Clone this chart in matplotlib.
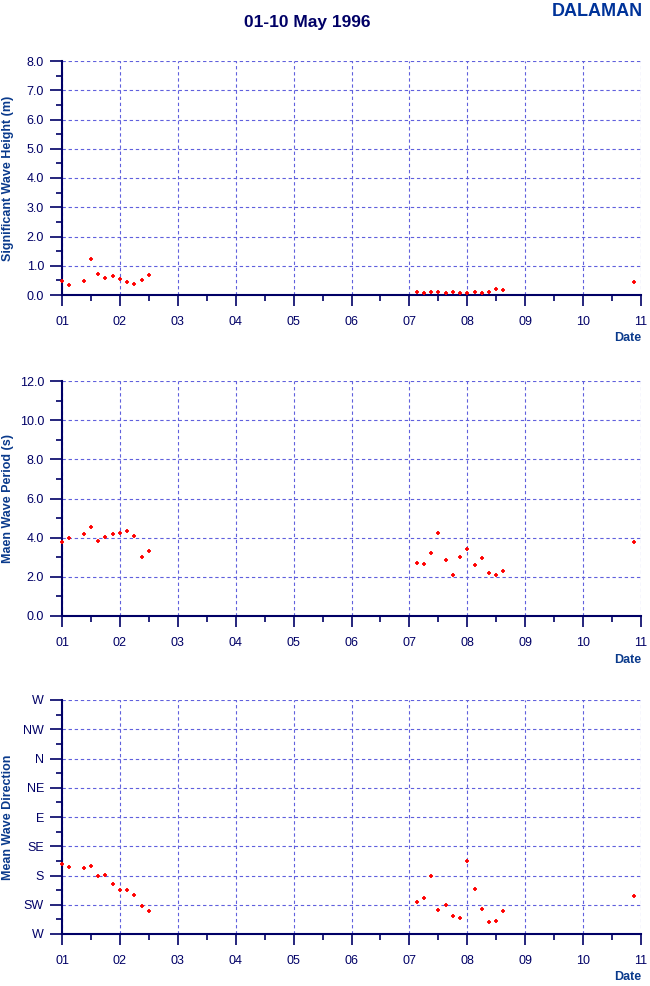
import numpy as np
import matplotlib.pyplot as plt
from matplotlib.ticker import MultipleLocator

plt.rcParams['font.family'] = ['Liberation Sans', 'DejaVu Sans']

# time in days since 01 May 1996 00:00
t = [0, 0.125, 0.375, 0.5, 0.625, 0.75, 0.875, 1.0, 1.125, 1.25, 1.375, 1.5,
     6.125, 6.25, 6.375, 6.5, 6.625, 6.75, 6.875, 7.0, 7.125, 7.25, 7.375, 7.5, 7.625, 9.875]
hs = [0.48, 0.35, 0.49, 1.23, 0.71, 0.58, 0.65, 0.56, 0.43, 0.38, 0.51, 0.70,
      0.10, 0.08, 0.10, 0.11, 0.07, 0.09, 0.07, 0.07, 0.09, 0.07, 0.10, 0.19, 0.17, 0.43]
tm = [3.79, 4.00, 4.17, 4.53, 3.85, 4.03, 4.17, 4.26, 4.36, 4.09, 3.03, 3.33,
      2.72, 2.67, 3.20, 4.26, 2.87, 2.10, 3.03, 3.44, 2.62, 2.97, 2.19, 2.10, 2.32, 3.79]
dirn = [163, 167, 168, 166, 181, 179, 193, 202, 203, 210, 227, 235,
        221, 215, 180, 233, 226, 242, 245, 158, 200, 232, 252, 250, 234, 212]

days = [f'{d:02d}' for d in range(1, 12)]
dir_labels = ['W', 'SW', 'S', 'SE', 'E', 'NE', 'N', 'NW', 'W']
dir_ticks = [270, 225, 180, 135, 90, 45, 0, -45, -90]

navy = '#000066'
lblc = '#0a3a8c'
gridc = '#6060dd'

W, H = 650, 986
fig = plt.figure(figsize=(W / 100, H / 100), dpi=100)


def make_ax(top, bottom, ylabel):
    ax = fig.add_axes([62 / W, 1 - bottom / H, 579 / W, (bottom - top) / H])
    for s in ['top', 'right']:
        ax.spines[s].set_visible(False)
    for s in ['left', 'bottom']:
        ax.spines[s].set_color(navy)
        ax.spines[s].set_linewidth(1.5)
        ax.spines[s].set_zorder(3)
    ax.set_xlim(0, 10)
    ax.set_xticks(range(11))
    ax.set_xticklabels(days)
    ax.xaxis.set_minor_locator(MultipleLocator(0.5))
    ax.tick_params(axis='x', which='major', length=8, width=1.2, color=navy,
                   labelcolor=navy, labelsize=9, pad=7)
    ax.tick_params(axis='x', which='minor', length=4, width=1.2, color=navy)
    ax.tick_params(axis='y', which='major', length=9, width=1.2, color=navy,
                   labelcolor=navy, labelsize=9, pad=4)
    ax.tick_params(axis='y', which='minor', length=4, width=1.2, color=navy)
    ax.grid(True, which='major', color=gridc, linestyle=(0, (3, 2.5)), linewidth=0.8)
    ax.text(1.0, -0.16, 'Date', transform=ax.transAxes, ha='right', va='top',
            fontsize=9, fontweight='bold', color=lblc)
    fig.text(8 / W, 1 - (top + bottom) / 2 / H, ylabel, rotation=90,
             ha='center', va='center', fontsize=9, fontweight='bold', color=lblc)
    return ax


ax1 = make_ax(61, 295, 'Significant Wave Height (m)')
ax1.plot(t, hs, '+', color='red', ms=3, mew=1.3, clip_on=False, zorder=4)
ax1.set_ylim(0, 8)
ax1.set_yticks(np.arange(0, 8.1, 1))
ax1.set_yticklabels([f'{v:.1f}' for v in np.arange(0, 8.1, 1)])
ax1.yaxis.set_minor_locator(MultipleLocator(0.5))

ax2 = make_ax(381, 616, 'Maen Wave Period (s)')
ax2.plot(t, tm, '+', color='red', ms=3, mew=1.3, clip_on=False, zorder=4)
ax2.set_ylim(0, 12)
ax2.set_yticks(np.arange(0, 12.1, 2))
ax2.set_yticklabels([f'{v:.1f}' for v in np.arange(0, 12.1, 2)])
ax2.yaxis.set_minor_locator(MultipleLocator(1))

ax3 = make_ax(700, 934, 'Mean Wave Direction')
ax3.plot(t, dirn, '+', color='red', ms=3, mew=1.3, clip_on=False, zorder=4)
ax3.set_ylim(270, -90)
ax3.set_yticks(dir_ticks)
ax3.set_yticklabels(dir_labels)
ax3.yaxis.set_minor_locator(MultipleLocator(22.5))

fig.text(307 / W, 1 - 22 / H, '01-10 May 1996', ha='center', va='center',
         fontsize=12.5, fontweight='bold', color=navy)
fig.text(643 / W, 1 - 12 / H, 'DALAMAN', ha='right', va='center',
         fontsize=13, fontweight='bold', color='#003399')

fig.savefig('out.png', dpi=100, facecolor='white')
